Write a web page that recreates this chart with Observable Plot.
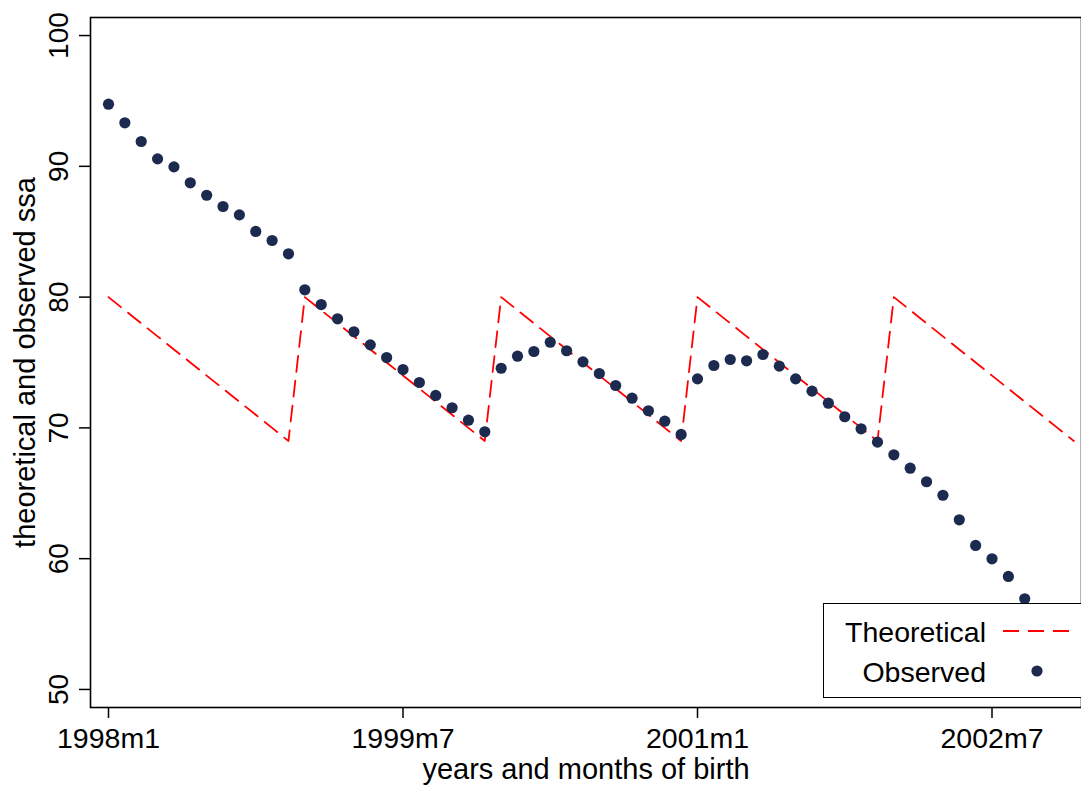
<!DOCTYPE html>
<html>
<head>
<meta charset="utf-8">
<script src="https://cdn.jsdelivr.net/npm/d3@7"></script>
<script src="https://cdn.jsdelivr.net/npm/@observablehq/plot@0.6"></script>
<style>
  html, body { margin: 0; padding: 0; background: #fff; }
  body { font-family: "Liberation Sans", Arial, Helvetica, sans-serif; }
  #wrap { position: relative; width: 1081px; height: 787px; overflow: hidden; }
  #legend { position: absolute; left: 823px; top: 603px; width: 262px; height: 95px; box-sizing: border-box;
            border: 1.5px solid #000; background: #fff; }
  #legend .lbl { position: absolute; left: 0; width: 162px; text-align: right; font-size: 28.5px; line-height: 28px; color: #000; white-space: nowrap; }
  #legend svg { position: absolute; left: 0; top: 0; }
</style>
</head>
<body>
<div id="wrap"><div id="chart"></div><div id="legend"></div></div>
<script>
// Months since 1998m1 (0 = 1998m1)
const tickMonths = [0, 18, 36, 54];
const tickLabels = ["1998m1", "1999m7", "2001m1", "2002m7"];
const yTicks = [50, 60, 70, 80, 90, 100];

// Theoretical ssa, months 0..59
const theoreticalValues = [
  80, 79, 78, 77, 76, 75, 74, 73, 72, 71, 70, 69,
  80, 79, 78, 77, 76, 75, 74, 73, 72, 71, 70, 69,
  80, 79, 78, 77, 76, 75, 74, 73, 72, 71, 70, 69,
  80, 79, 78, 77, 76, 75, 74, 73, 72, 71, 70, 69,
  80, 79, 78, 77, 76, 75, 74, 73, 72, 71, 70, 69
];

// Observed ssa, months 0..56
const observedValues = [
  94.75, 93.33, 91.90, 90.57, 89.96, 88.74, 87.79, 86.93, 86.29, 85.02, 84.33, 83.31,
  80.56, 79.43, 78.34, 77.35, 76.35, 75.38, 74.46, 73.47, 72.48, 71.54, 70.59, 69.70,
  74.56, 75.48, 75.84, 76.55, 75.90, 75.05, 74.16, 73.24, 72.27, 71.31, 70.51, 69.50,
  73.75, 74.77, 75.23, 75.13, 75.61, 74.72, 73.75, 72.81, 71.89, 70.85, 69.93, 68.91,
  67.94, 66.92, 65.88, 64.85, 62.97, 61.01, 59.99, 58.64, 56.93
];

const legendLabels = ["Theoretical", "Observed"];
const lineColor = "#ff0000";
const dotColor = "#1c2a4f";

const theo = theoreticalValues.map((v, i) => ({m: i, v}));
const obs = observedValues.map((v, i) => ({m: i, v}));

const chart = Plot.plot({
  width: 1081,
  height: 787,
  marginLeft: 90,
  marginRight: 0,
  marginTop: 17,
  marginBottom: 80,
  style: {fontFamily: "'Liberation Sans', Arial, Helvetica, sans-serif", fontSize: "28px", color: "#000", background: "#fff", overflow: "visible"},
  x: {domain: [-1.1, 59.47]},
  y: {domain: [48.62, 101.38]},
  marks: [
    Plot.line(theo, {x: "m", y: "v", stroke: lineColor, strokeWidth: 1.8, strokeDasharray: "16,9"}),
    Plot.dot(obs, {x: "m", y: "v", r: 5.6, fill: dotColor, stroke: "none"}),
    Plot.frame({stroke: "#000", strokeWidth: 1.6}),
    Plot.axisX({
      ticks: tickMonths,
      tickFormat: (m) => tickLabels[tickMonths.indexOf(m)],
      tickSize: 11,
      tickPadding: 9,
      strokeWidth: 1.5,
      fontSize: 28.5,
      label: null
    }),
    Plot.axisX({
      ticks: [],
      tickSize: 0,
      fontSize: 29,
      dx: 5,
      label: "years and months of birth",
      labelAnchor: "center",
      labelOffset: 71,
      labelArrow: "none"
    }),
    Plot.axisY({
      ticks: yTicks,
      tickSize: 11,
      tickRotate: -90,
      tickPadding: 12,
      strokeWidth: 1.5,
      fontSize: 28,
      label: null
    }),
    Plot.axisY({
      ticks: [],
      tickSize: 0,
      fontSize: 29,
      dy: -1,
      label: "theoretical and observed ssa",
      labelAnchor: "center",
      labelOffset: 76,
      labelArrow: "none"
    })
  ]
});
document.getElementById("chart").appendChild(chart);

// Legend
const legend = document.getElementById("legend");
const rowsY = [29, 69];
legendLabels.forEach((t, i) => {
  const d = document.createElement("div");
  d.className = "lbl";
  d.style.top = (rowsY[i] - 15) + "px";
  d.textContent = t;
  legend.appendChild(d);
});
const sw = d3.create("svg").attr("width", 262).attr("height", 95);
sw.append("line").attr("x1", 179).attr("x2", 247).attr("y1", 27).attr("y2", 27)
  .attr("stroke", lineColor).attr("stroke-width", 1.8).attr("stroke-dasharray", "16,9");
sw.append("circle").attr("cx", 213).attr("cy", 67).attr("r", 5.6).attr("fill", dotColor);
legend.appendChild(sw.node());
</script>
</body>
</html>
